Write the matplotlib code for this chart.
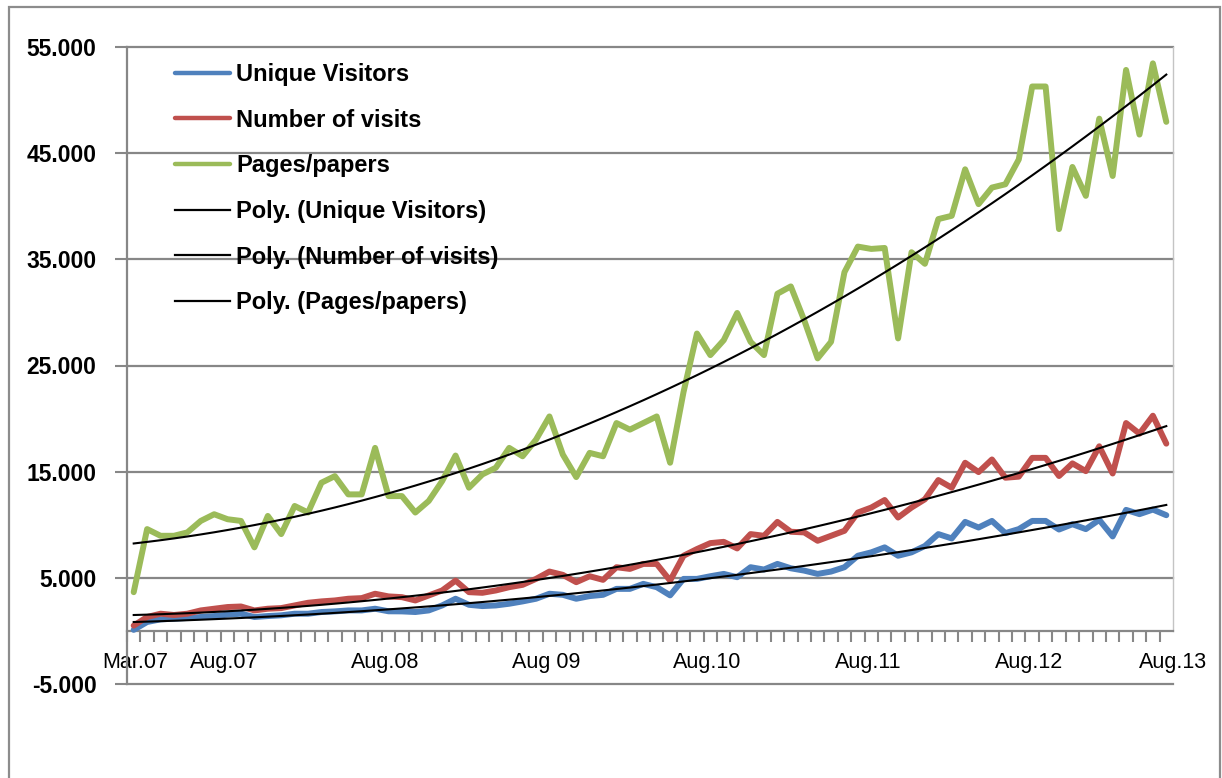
import numpy as np
import matplotlib
matplotlib.use("Agg")
import matplotlib.pyplot as plt
from matplotlib.patches import Rectangle

plt.rcParams['font.family'] = ['Liberation Sans', 'DejaVu Sans']

# monthly values, Mar.07 .. Aug.13 (78 months)
unique_visitors = [100, 840, 1090, 1150, 1220, 1310, 1400, 1530, 1620, 1310,
                   1400, 1470, 1620, 1620, 1780, 1840, 1930, 1930, 2090, 1850,
                   1840, 1780, 1930, 2400, 3030, 2460, 2340, 2400, 2560, 2780,
                   3030, 3500, 3400, 3030, 3280, 3400, 3960, 3960, 4430, 4120,
                   3350, 4900, 4900, 5150, 5370, 5060, 6000, 5780, 6310, 5900,
                   5680, 5370, 5590, 6000, 7080, 7400, 7870, 7080, 7400, 8000,
                   9120, 8710, 10270, 9740, 10360, 9210, 9590, 10360, 10360, 9550,
                   10050, 9590, 10460, 8900, 11400, 11000, 11430, 10900]
number_of_visits = [500, 1310, 1620, 1500, 1620, 1930, 2090, 2250, 2300, 1930,
                    2090, 2150, 2400, 2650, 2780, 2870, 3030, 3090, 3500, 3250,
                    3180, 2870, 3340, 3810, 4740, 3650, 3590, 3810, 4120, 4340,
                    4900, 5590, 5280, 4590, 5150, 4810, 6000, 5840, 6310, 6310,
                    4740, 7080, 7710, 8270, 8390, 7770, 9120, 8960, 10270, 9340,
                    9280, 8490, 8960, 9430, 11150, 11620, 12330, 10680, 11620, 12400,
                    14210, 13490, 15840, 14960, 16150, 14430, 14530, 16300, 16300, 14590,
                    15780, 15050, 17390, 14830, 19580, 18580, 20270, 17640]
pages_papers = [3650, 9590, 8960, 8960, 9280, 10360, 10990, 10520, 10360, 7870,
                10830, 9120, 11770, 11150, 13960, 14580, 12860, 12860, 17240, 12700,
                12700, 11150, 12240, 14110, 16520, 13490, 14740, 15370, 17240, 16450,
                18020, 20200, 16610, 14490, 16770, 16450, 19580, 18960, 19580, 20200,
                15840, 22500, 28010, 25980, 27390, 29950, 27230, 25980, 31760, 32450,
                29260, 25670, 27230, 33790, 36200, 35980, 36070, 27550, 35670, 34580,
                38790, 39100, 43480, 40200, 41760, 42070, 44410, 51280, 51280, 37850,
                43700, 40980, 48250, 42850, 52840, 46750, 53460, 47950]

series_names = ["Unique Visitors", "Number of visits", "Pages/papers"]
series_colors = ["#4F81BD", "#C0504D", "#9BBB59"]

x_labels = ["Mar.07", "Aug.07", "Aug.08", "Aug 09", "Aug.10", "Aug.11", "Aug.12", "Aug.13"]
x_label_months = [0, 5, 17, 29, 41, 53, 65, 77]
y_ticks = [-5000, 5000, 15000, 25000, 35000, 45000, 55000]
y_tick_labels = ["-5.000", "5.000", "15.000", "25.000", "35.000", "45.000", "55.000"]

grid_gray = "#878787"

fig = plt.figure(figsize=(12.22, 7.78), dpi=100)
ax = fig.add_axes([127 / 1222, 1 - 684 / 778, 1046 / 1222, 637 / 778])

# x axis crosses at 0 -- set this before the ticks, it resets them
ax.spines['bottom'].set_position(('data', 0))

x = np.arange(len(unique_visitors))
all_series = [unique_visitors, number_of_visits, pages_papers]
for vals, name, col in zip(all_series, series_names, series_colors):
    ax.plot(x, vals, color=col, lw=4.3, label=name, zorder=3,
            solid_joinstyle='round', solid_capstyle='round')

# polynomial trend lines (order 2)
for vals, name in zip(all_series, series_names):
    coef = np.polyfit(x, vals, 2)
    ax.plot(x, np.polyval(coef, x), color="black", lw=1.5,
            label="Poly. (" + name + ")", zorder=4)

ax.set_yticks(y_ticks)
ax.set_yticklabels(y_tick_labels, fontsize=16.5, fontweight='bold')
ax.tick_params(axis='y', length=9, width=1.5, color=grid_gray, pad=13)
ax.yaxis.grid(True, color=grid_gray, lw=1.6)
ax.set_axisbelow(True)
for gl in ax.get_ygridlines():
    gl.set_clip_on(False)

xmax = len(x) - 0.5
label_pos = [m + 0.15 if i == 0 else min(m + 1.75, xmax) for i, m in enumerate(x_label_months)]
ax.set_xticks(label_pos)
ax.set_xticklabels(x_labels, fontsize=15.5)
ax.tick_params(axis='x', which='major', length=0, pad=15)
ax.set_xticks(np.arange(-0.5, len(x), 1.0), minor=True)
ax.tick_params(axis='x', which='minor', length=8, width=1.5, color=grid_gray, direction='out')

# limits last, set_xticks would widen them
ax.set_xlim(-0.5, xmax)
ax.set_ylim(-5000, 55000)

ax.spines['bottom'].set_color(grid_gray)
ax.spines['bottom'].set_linewidth(1.6)
ax.spines['left'].set_color(grid_gray)
ax.spines['left'].set_linewidth(1.6)
ax.spines['top'].set_visible(False)
ax.spines['right'].set_color("#c4c4c4")
ax.spines['right'].set_linewidth(1.0)
ax.spines['right'].set_bounds(0, 55000)

leg = ax.legend(loc='upper left', bbox_to_anchor=(175 / 1222, 1 - 63 / 778),
                bbox_transform=fig.transFigure, frameon=False, borderpad=0,
                borderaxespad=0, handlelength=2.33, handletextpad=0.25,
                labelspacing=0.96, prop={'size': 17, 'weight': 'bold'})
for h in leg.get_lines()[:3]:
    h.set_linewidth(3.2)
for h in leg.get_lines()[3:]:
    h.set_linewidth(1.6)

# outer chart border
fig.add_artist(Rectangle((9 / 1222, -0.1), 1211 / 1222, 1.1 - 7 / 778,
                         transform=fig.transFigure, fill=False,
                         edgecolor="#8c8c8c", lw=1.6))

fig.savefig("out.png", dpi=100)
